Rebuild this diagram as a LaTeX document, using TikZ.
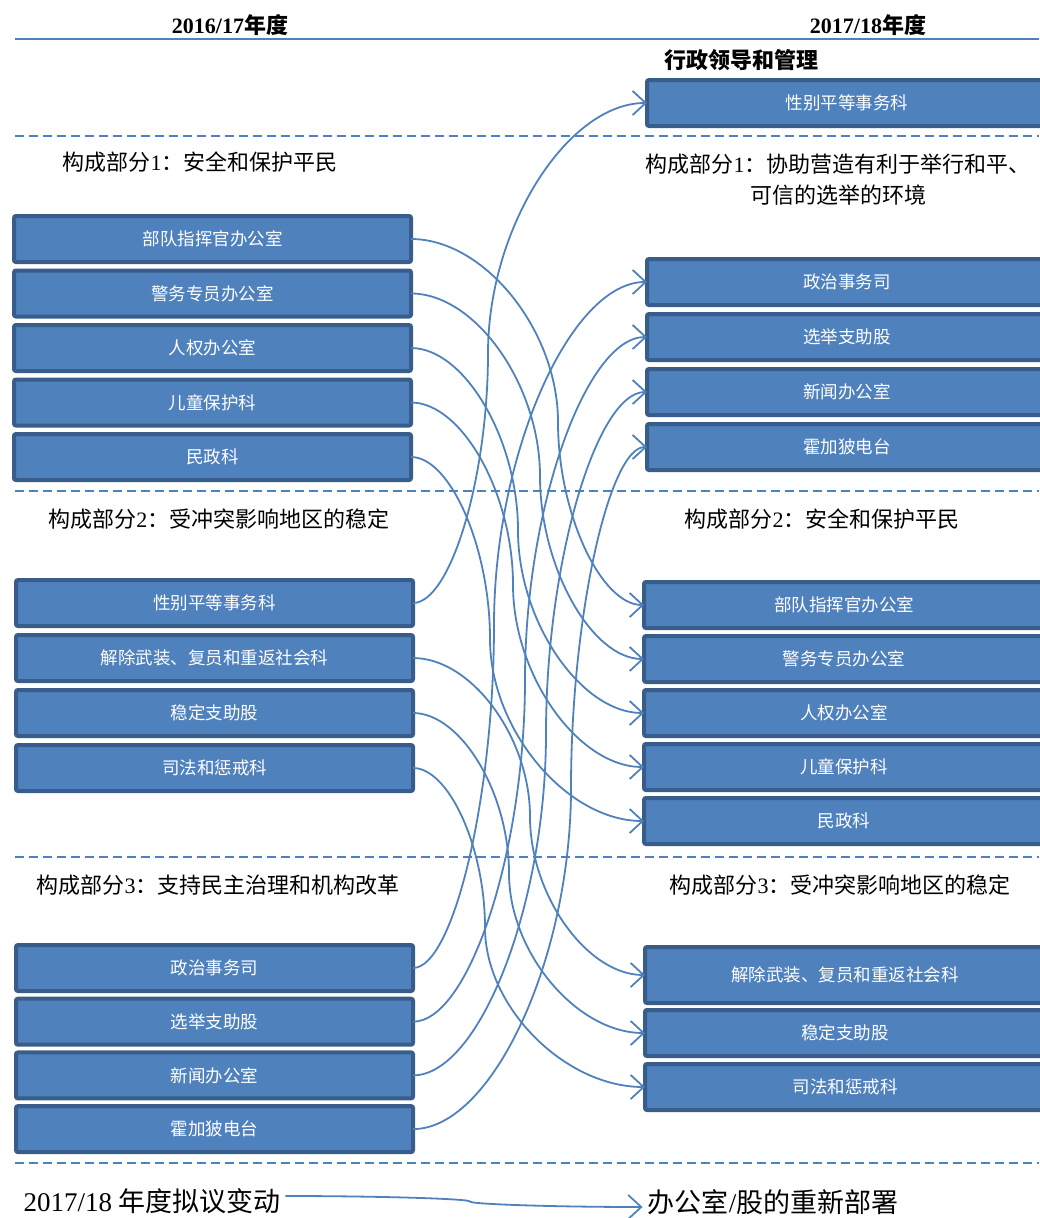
\documentclass[tikz,border=0pt]{standalone}
\usepackage{fontspec}
\setmainfont{Liberation Serif}
\newfontfamily\cjk{Noto Sans CJK SC}
\usepackage{xcolor}
\usepackage{tikz}
\usetikzlibrary{positioning,calc,arrows.meta}
\definecolor{c_box}{RGB}{79,129,189}
\definecolor{c_edge}{RGB}{56,93,138}
\definecolor{c_line}{RGB}{79,129,189}
\newcommand{\lat}[1]{{\rmfamily #1}}
\tikzset{u-rectangle/.style={rectangle, rounded corners=2pt, minimum width=397pt, minimum height=46pt, inner sep=0pt, outer sep=0pt, text centered, draw=c_edge, line width=4pt, fill=c_box, text=white, font=\cjk\fontsize{17.5}{20}\selectfont},
r-rectangle/.style={u-rectangle, minimum width=400pt},
head/.style={font=\cjk\fontsize{22}{31}\selectfont, align=center, inner sep=0pt},
year/.style={font=\cjk\bfseries\fontsize{22}{26}\selectfont, inner sep=0pt},
legend/.style={font=\cjk\fontsize{27}{30}\selectfont, inner sep=0pt, inner xsep=5pt},
arrow/.style={line width=1.8pt, draw=c_line, ->, >={Straight Barb[length=13pt,width=24pt]}},
sepline/.style={draw=c_line, line width=2pt, dash pattern=on 9pt off 5pt}}
\newcommand{\relink}[3]{%
  \draw [arrow] let \p1=#1, \p2=#2 in
    (\p1) .. controls ({(\x1+#3pt)/2},\y1) and (#3pt,{\y1+(\y2-\y1)/4}) .. (#3pt,{(\y1+\y2)/2})
    .. controls (#3pt,{\y1+3*(\y2-\y1)/4}) and ({(\x2+#3pt)/2},\y2) .. (\p2);}

\begin{document}
\begin{tikzpicture}[x=1pt, y=-1pt]
\useasboundingbox (0,0) rectangle (1039,1218);
\node (y16) [year] at (230,25) {\lat{2016/17}年度};
\node (y17) [year] at (868,25) {\lat{2017/18}年度};
\draw [draw=c_line, line width=1.5pt] (15,39) -- (1039,39);
\foreach \y in {136,491,857,1163}
  \draw [sepline] (15,\y) -- (1039,\y);

% 2016/17
\node (h1) [head] at (200,162) {构成部分\lat{1}：安全和保护平民};
\node (l1a) [u-rectangle] at (212.5,239) {部队指挥官办公室};
\node (l1b) [u-rectangle, below=8.5pt of l1a] {警务专员办公室};
\node (l1c) [u-rectangle, below=8.5pt of l1b] {人权办公室};
\node (l1d) [u-rectangle, below=8.5pt of l1c] {儿童保护科};
\node (l1e) [u-rectangle, below=8.5pt of l1d] {民政科};

\node (h2) [head] at (219,519) {构成部分\lat{2}：受冲突影响地区的稳定};
\node (l2a) [u-rectangle] at (214.5,603) {性别平等事务科};
\node (l2b) [u-rectangle, below=9pt of l2a] {解除武装、复员和重返社会科};
\node (l2c) [u-rectangle, below=9pt of l2b] {稳定支助股};
\node (l2d) [u-rectangle, below=9pt of l2c] {司法和惩戒科};

\node (h3) [head] at (218,885) {构成部分\lat{3}：支持民主治理和机构改革};
\node (l3a) [u-rectangle] at (214.5,968) {政治事务司};
\node (l3b) [u-rectangle, below=7.7pt of l3a] {选举支助股};
\node (l3c) [u-rectangle, below=7.7pt of l3b] {新闻办公室};
\node (l3d) [u-rectangle, below=7.7pt of l3c] {霍加狓电台};

% 2017/18
\node (adm) [year] at (741,60) {行政领导和管理};
\node (r0) [r-rectangle] at (847,103) {性别平等事务科};

\node (g1) [head] at (838,180) {构成部分\lat{1}：协助营造有利于举行和平、\\可信的选举的环境};
\node (r1a) [r-rectangle] at (847,282) {政治事务司};
\node (r1b) [r-rectangle, below=9pt of r1a] {选举支助股};
\node (r1c) [r-rectangle, below=9pt of r1b] {新闻办公室};
\node (r1d) [r-rectangle, below=9pt of r1c] {霍加狓电台};

\node (g2) [head] at (822,519) {构成部分\lat{2}：安全和保护平民};
\node (r2a) [r-rectangle] at (844,605) {部队指挥官办公室};
\node (r2b) [r-rectangle, below=8pt of r2a] {警务专员办公室};
\node (r2c) [r-rectangle, below=8pt of r2b] {人权办公室};
\node (r2d) [r-rectangle, below=8pt of r2c] {儿童保护科};
\node (r2e) [r-rectangle, below=8pt of r2d] {民政科};

\node (g3) [head] at (840,885) {构成部分\lat{3}：受冲突影响地区的稳定};
\node (r3a) [r-rectangle, minimum height=56pt] at (845,975) {解除武装、复员和重返社会科};
\node (r3b) [r-rectangle, below=7pt of r3a] {稳定支助股};
\node (r3c) [r-rectangle, below=8pt of r3b] {司法和惩戒科};

\relink{(l1a.east)}{(r2a.west)}{558}
\relink{(l1b.east)}{(r2b.west)}{540}
\relink{(l1c.east)}{(r2c.west)}{518}
\relink{(l1d.east)}{(r2d.west)}{513}
\relink{(l1e.east)}{(r2e.west)}{490}
\relink{(l2a.east)}{(r0.west)}{488}
\relink{(l2b.east)}{(r3a.west)}{530}
\relink{(l2c.east)}{(r3b.west)}{509}
\relink{(l2d.east)}{(r3c.west)}{485}
\relink{(l3a.east)}{(r1a.west)}{494}
\relink{(l3b.east)}{(r1b.west)}{525}
\relink{(l3c.east)}{(r1c.west)}{546}
\relink{(l3d.east)}{(r1d.west)}{571}

\node (lg1) [legend] at (152,1201) {\lat{2017/18} 年度拟议变动};
\node (lg2) [legend] at (773,1202) {办公室\lat{/}股的重新部署};
\relink{([yshift=5pt]lg1.east)}{([yshift=-5pt]lg2.west)}{470}
\end{tikzpicture}
\end{document}
